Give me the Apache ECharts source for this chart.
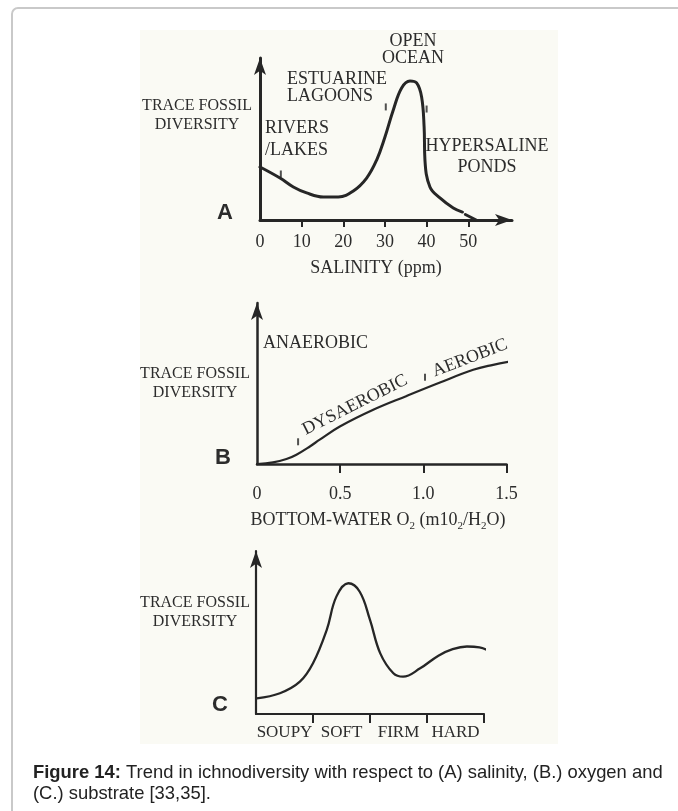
<!DOCTYPE html>
<html><head><meta charset="utf-8">
<script src="https://cdn.jsdelivr.net/npm/echarts@6/dist/echarts.min.js"></script>
<style>html,body{margin:0;padding:0;background:#fff}#c{width:678px;height:811px}</style>
</head><body><div id="c"></div>
<script>
// ---- Panel A: salinity (ppm) vs relative trace-fossil diversity (0-100) ----
const salinityX = [0,4.8,8,11.2,15.2,18.8,22.4,25.6,28,30,32,34,36,37.6,38.8,39.4,39.6,40.8,43.2,46.4,48.6];
const salinityY = [32.7,25.9,20.4,16.7,14.2,14.2,17.9,25.9,37,51.2,67.9,81.5,85.8,84.6,75.9,57.4,37,20.4,13.6,7.4,4.9];
const salinityTailX = [49.3, 51.9];
const salinityTailY = [3.4, 0];
const salinityTicks = [0,10,20,30,40,50];
const salinityBoundX = [5, 30.2, 40];
const salinityBoundY = [28.4, 69.8, 68.5];
const salinityZones = ['RIVERS\n/LAKES','ESTUARINE\nLAGOONS','OPEN\nOCEAN','HYPERSALINE\nPONDS'];

// ---- Panel B: bottom-water O2 vs diversity ----
const oxygenX = [0,0.096,0.177,0.237,0.318,0.377,0.498,0.699,0.9,1.1,1.3,1.42,1.52];
const oxygenY = [0,1.0,3.1,5.8,10.9,15.1,23.3,33.7,42.3,50.6,58.5,61.6,63.6];
const oxygenTicks = [0,0.5,1.0,1.5];
const oxygenBoundX = [0.247, 1.01];
const oxygenBoundY = [13.8, 53.9];
const oxygenZones = ['ANAEROBIC','DYSAEROBIC','AEROBIC'];

// ---- Panel C: substrate consistency vs diversity ----
const substrateX = [0.012,0.42,0.77,1.0,1.24,1.41,1.62,1.82,2.0,2.18,2.41,2.58,2.88,3.2,3.45,3.7,3.92,4.13];
const substrateY = [9.6,12.7,19.8,31.1,51.5,72.0,80.2,75.0,57.7,37.2,25.0,22.9,28.0,35.8,39.8,41.4,40.8,38.2];
const substrates = ['SOUPY','SOFT','FIRM','HARD'];
const substrateBounds = [1,2,3,4];

const yTitle = 'TRACE FOSSIL\nDIVERSITY';
const captionBold = 'Figure 14:';
const captionText = ' Trend in ichnodiversity with respect to (A) salinity, (B.) oxygen and\n(C.) substrate [33,35].';

const INK = '#262626';
const TXT = '#2c2c2c';
const SERIF = '"Liberation Serif", "DejaVu Serif", serif';
const SANS = '"Liberation Sans", Arial, sans-serif';

const zip = (xs, ys) => xs.map((x, i) => [x, ys[i]]);

function xAxisBase(grid, max, lw, arrow) {
  return {
    type: 'value', gridIndex: grid, min: 0, max: max,
    axisLine: { show: true, onZero: false, symbol: arrow ? ['none','arrow'] : ['none','none'], symbolSize: [9,17],
      lineStyle: { color: INK, width: lw } },
    splitLine: { show: false },
    axisTick: { show: true, length: 8, lineStyle: { color: INK, width: 2 } },
    axisLabel: { show: true, color: TXT, fontFamily: SERIF, fontSize: 18 }
  };
}
function yAxisBase(grid, lw) {
  return {
    type: 'value', gridIndex: grid, min: 0, max: 100,
    axisLine: { show: true, symbol: ['none','arrow'], symbolSize: [9,17], lineStyle: { color: INK, width: lw } },
    axisTick: { show: false }, axisLabel: { show: false }, splitLine: { show: false }
  };
}

const xA = xAxisBase(0, 60.5, 3, true);
xA.axisTick.customValues = salinityTicks.filter(v => v > 0);
xA.axisTick.length = 7;
xA.axisLabel.customValues = salinityTicks;
xA.axisLabel.margin = 13;

const xB = xAxisBase(1, 1.5, 2.5, false);
xB.axisTick.customValues = oxygenTicks.filter(v => v > 0);
xB.axisTick.length = 9;
xB.axisLabel.customValues = oxygenTicks;
xB.axisLabel.formatter = v => (v === 0 ? '0' : v.toFixed(1));
xB.axisLabel.margin = 21;

const xC = xAxisBase(2, 4, 2.2, false);
xC.axisTick.customValues = substrateBounds;
xC.axisTick.length = 9;
xC.axisLabel.customValues = substrates.map((s, i) => i + 0.5);
xC.axisLabel.formatter = v => substrates[Math.floor(v)];
xC.axisLabel.margin = 10;
xC.axisLabel.fontSize = 17;

function line(xi, data, w) {
  return { type: 'line', xAxisIndex: xi, yAxisIndex: xi, data: data, smooth: 0.4,
    showSymbol: false, symbol: 'none', clip: false, lineStyle: { color: INK, width: w, cap: 'round', join: 'round' }, silent: true, z: 3 };
}
function bounds(xi, data) {
  return { type: 'scatter', xAxisIndex: xi, yAxisIndex: xi, data: data, symbol: 'rect', symbolSize: [2, 7],
    itemStyle: { color: INK }, silent: true, z: 4 };
}

function txt(text, x, y, size, opts) {
  opts = opts || {};
  return { type: 'text', x: x, y: y, rotation: opts.rot || 0, silent: true, z: 20,
    style: { text: text, fill: TXT, font: (opts.bold ? 'bold ' : '') + size + 'px ' + (opts.family || SERIF),
      textAlign: opts.align || 'center', textVerticalAlign: 'middle', lineHeight: opts.lh || size + 2 } };
}

const chart = echarts.init(document.getElementById('c'), null, { renderer: 'canvas' });
chart.setOption({
  backgroundColor: '#ffffff',
  animation: false,
  grid: [
    { left: 260, top: 58, width: 252, height: 162 },
    { left: 257, top: 303, width: 249.5, height: 161 },
    { left: 256, top: 551, width: 228, height: 163 }
  ],
  xAxis: [xA, xB, xC],
  yAxis: [yAxisBase(0, 3), yAxisBase(1, 2.5), yAxisBase(2, 2.2)],
  series: [
    line(0, zip(salinityX, salinityY), 3),
    line(0, zip(salinityTailX, salinityTailY), 3),
    bounds(0, zip(salinityBoundX, salinityBoundY)),
    line(1, zip(oxygenX, oxygenY), 2.2),
    bounds(1, zip(oxygenBoundX, oxygenBoundY)),
    line(2, zip(substrateX, substrateY), 2.3)
  ],
  graphic: [
    { type: 'rect', z: -10, silent: true, shape: { x: 140, y: 30, width: 418, height: 714 }, style: { fill: '#fafaf4' } },
    { type: 'rect', z: -9, silent: true, shape: { x: 12, y: 8, width: 720, height: 900, r: 6 },
      style: { fill: 'none', stroke: '#c9c9c9', lineWidth: 2 } },
    // Panel A
    txt(yTitle, 197, 115, 16, { lh: 19 }),
    txt('A', 225, 213, 22, { bold: true, family: SANS }),
    txt(salinityZones[0], 265, 139, 18, { align: 'left', lh: 22 }),
    txt(salinityZones[1], 287, 88, 18, { align: 'left', lh: 17 }),
    txt(salinityZones[2], 413, 50, 18, { lh: 17 }),
    txt(salinityZones[3], 487, 157, 18, { lh: 21 }),
    txt('SALINITY (ppm)', 376, 268, 18),
    // Panel B
    txt(yTitle, 195, 383, 16, { lh: 19 }),
    txt('B', 223, 458, 22, { bold: true, family: SANS }),
    txt(oxygenZones[0], 263, 343, 18, { align: 'left' }),
    txt(oxygenZones[1], 355, 405, 18, { rot: 26.6 * Math.PI / 180 }),
    txt(oxygenZones[2], 470, 358, 18, { rot: 21 * Math.PI / 180 }),
    { type: 'text', x: 378, y: 520, silent: true, z: 20,
      style: { text: 'BOTTOM-WATER O{s|2} (m10{s|2}/H{s|2}O)', fill: TXT, font: '18px ' + SERIF,
        textAlign: 'center', textVerticalAlign: 'middle', lineHeight: 24,
        rich: { s: { fontSize: 11, fontFamily: SERIF, lineHeight: 11, verticalAlign: 'bottom', fill: TXT } } } },
    // Panel C
    txt(yTitle, 195, 612, 16, { lh: 19 }),
    txt('C', 220, 705, 22, { bold: true, family: SANS }),
    // Caption
    { type: 'text', x: 33, y: 762, silent: true, z: 20,
      style: { text: '{b|' + captionBold + '}' + captionText, fill: '#222', font: '18.4px ' + SANS,
        textAlign: 'left', textVerticalAlign: 'top', lineHeight: 21,
        rich: { b: { fontWeight: 'bold', fontSize: 18.4, fontFamily: SANS, fill: '#222' } } } }
  ]
});
</script></body></html>
